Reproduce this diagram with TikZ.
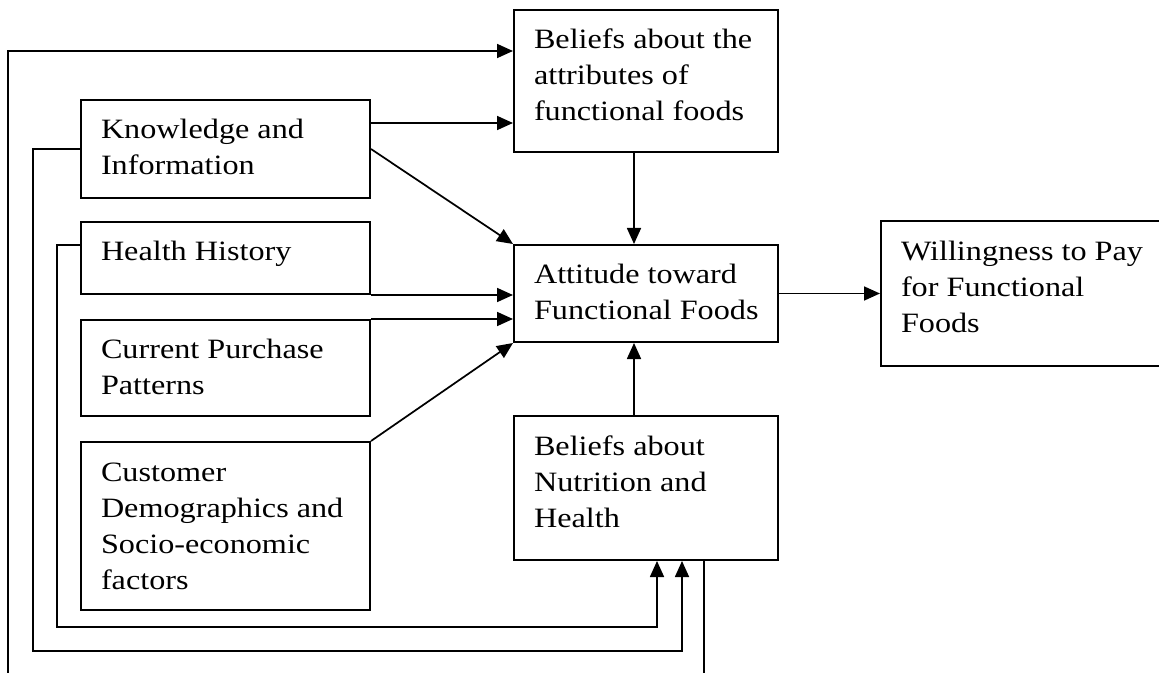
\documentclass[tikz,border=0pt]{standalone}
\usepackage{fontspec}
\setmainfont{Liberation Serif}[FakeStretch=1.15]
\usetikzlibrary{arrows.meta, positioning, calc}
\newcommand{\boxtxt}[3]{\parbox[t][#2][t]{#1}{\begin{tabular}[t]{@{}l@{}}#3\end{tabular}}}

\begin{document}
\begin{tikzpicture}[
    x=0.75pt, y=-0.75pt,
    box/.style={draw, rectangle, line width=1.5pt, inner xsep=15pt, inner ysep=10.35pt, font=\fontsize{21}{27}\selectfont},
    arrow/.style={line width=1.3pt, -{Triangle[length=12pt, width=10.5pt]}},
    line/.style={line width=1.3pt}
]
\useasboundingbox (0,0) rectangle (1159,673);

% Left column
\node (know) [box, anchor=north west] at (80,99) {\boxtxt{186.75pt}{52.8pt}{Knowledge and\\Information}};
\node (health) [box, below=16.5pt of know] {\boxtxt{186.75pt}{33.3pt}{Health History}};
\node (current) [box, below=18pt of health] {\boxtxt{186.75pt}{51.3pt}{Current Purchase\\Patterns}};
\node (cust) [box, below=18pt of current] {\boxtxt{186.75pt}{105.3pt}{Customer\\Demographics and\\Socio-economic\\factors}};

% Centre column
\node (attr) [box, anchor=north west] at (513,9) {\boxtxt{168pt}{85.8pt}{Beliefs about the\\attributes of\\functional foods}};
\node (att) [box, below=68.25pt of attr] {\boxtxt{168pt}{52.05pt}{Attitude toward\\Functional Foods}};
\node (nutri) [box, below=54pt of att] {\boxtxt{168pt}{87.3pt}{Beliefs about\\Nutrition and\\Health}};
\node (wtp) [box, right=75.75pt of att] {\boxtxt{179.25pt}{87.3pt}{Willingness to Pay\\for Functional\\Foods}};

% Loose ends and loop corners
\coordinate (outL) at (8,673);
\coordinate (outR) at (704,673);
\coordinate (hloop) at (657,627);
\coordinate (kloop) at (682,651);

% Links
\draw [arrow] (outL) |- ($(attr.north west)+(0,42)$);
\draw [arrow] ($(know.north east)+(0,24)$) coordinate (k1) -- (k1 -| attr.west);
\draw [arrow] (know.east) -- (att.north west);
\draw [arrow] (know.west) -- ++(-47,0) |- (kloop) -- (kloop |- nutri.south);
\draw [arrow] ($(health.north west)+(0,24)$) -- ++(-23,0) |- (hloop) -- (hloop |- nutri.south);
\draw [arrow] (health.south east) -- (health.south east -| att.west);
\draw [arrow] (current.north east) -- (current.north east -| att.west);
\draw [arrow] (cust.north east) -- (att.south west);
\draw [arrow] ($(attr.south)+(-12,0)$) coordinate (a1) -- (a1 |- att.north);
\draw [arrow] ($(nutri.north)+(-12,0)$) coordinate (a2) -- (a2 |- att.south);
\draw [arrow] (att) -- (wtp);
\draw [line] (nutri.south -| outR) -- (outR);

\end{tikzpicture}
\end{document}
